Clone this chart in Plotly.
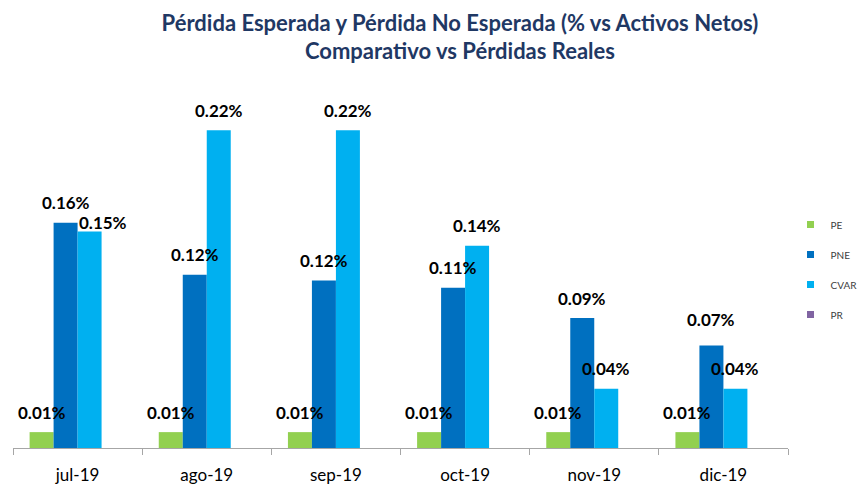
import plotly.graph_objects as go

categories = ["jul-19", "ago-19", "sep-19", "oct-19", "nov-19", "dic-19"]
pe = [0.011, 0.011, 0.011, 0.011, 0.011, 0.011]
pne = [0.156, 0.12, 0.116, 0.111, 0.090, 0.071]
cvar = [0.150, 0.22, 0.22, 0.14, 0.041, 0.041]
pr = [0, 0, 0, 0, 0, 0]

series = [("PE", pe, "#92D050"), ("PNE", pne, "#0070C0"),
          ("CVAR", cvar, "#00B0F0"), ("PR", pr, "#8064A2")]
labeled = {"PE", "PNE", "CVAR"}
bar_px = 24
label_nudge = {("CVAR", 0): (13, -11), ("PNE", 5): (0, 6)}

fig = go.Figure()
for name, vals, col in series:
    fig.add_trace(go.Bar(x=categories, y=vals, name=name, marker_color=col,
                         marker_line_width=0, showlegend=False))
for i, (name, vals, col) in enumerate(series):
    fig.add_trace(go.Scatter(x=[None], y=[None], mode="markers", name=name,
                             marker=dict(symbol="square", size=7, color=col),
                             legendgroup=name))

annotations = []
for si, (name, vals, col) in enumerate(series):
    if name not in labeled:
        continue
    off = (si - 1.5) * bar_px
    for ci, (c, v) in enumerate(zip(categories, vals)):
        dx, dy = label_nudge.get((name, ci), (0, 0))
        annotations.append(dict(x=c, y=v, xref="x", yref="y", text=f"{v:.2f}%",
                                showarrow=False, xshift=off + dx, yshift=20 + dy,
                                yanchor="middle",
                                font=dict(family="Lato", size=17, color="#000000",
                                          weight="bold")))

fig.update_layout(
    width=863, height=487,
    margin=dict(l=13, r=75, t=87, b=39, autoexpand=False),
    paper_bgcolor="white", plot_bgcolor="white",
    barmode="group", bargap=0.257, bargroupgap=0,
    title=dict(text="Pérdida Esperada y Pérdida No Esperada (% vs Activos Netos)<br>Comparativo vs Pérdidas Reales",
               x=0.533, xanchor="center", y=0.9366, yanchor="top",
               font=dict(family="Lato", size=22, color="#1F3864", weight="bold")),
    legend=dict(xref="container", x=0.916, y=0.659, xanchor="left", yanchor="top",
                font=dict(family="Lato", size=10, color="#404040"),
                tracegroupgap=11, itemwidth=30, bgcolor="rgba(0,0,0,0)"),
    annotations=annotations,
    xaxis=dict(showline=True, linecolor="#A6A6A6", linewidth=1,
               ticks="outside", tickson="boundaries", ticklen=6, tickcolor="#A6A6A6",
               ticklabelstandoff=12,
               tickfont=dict(family="Lato", size=17, color="#000000"),
               showgrid=False),
    yaxis=dict(range=[0, 0.25], visible=False, showgrid=False, zeroline=False),
)
fig.write_html("out.html", config={"displayModeBar": False},
               post_script="document.body.style.margin='0px';document.body.style.overflow='hidden';")
